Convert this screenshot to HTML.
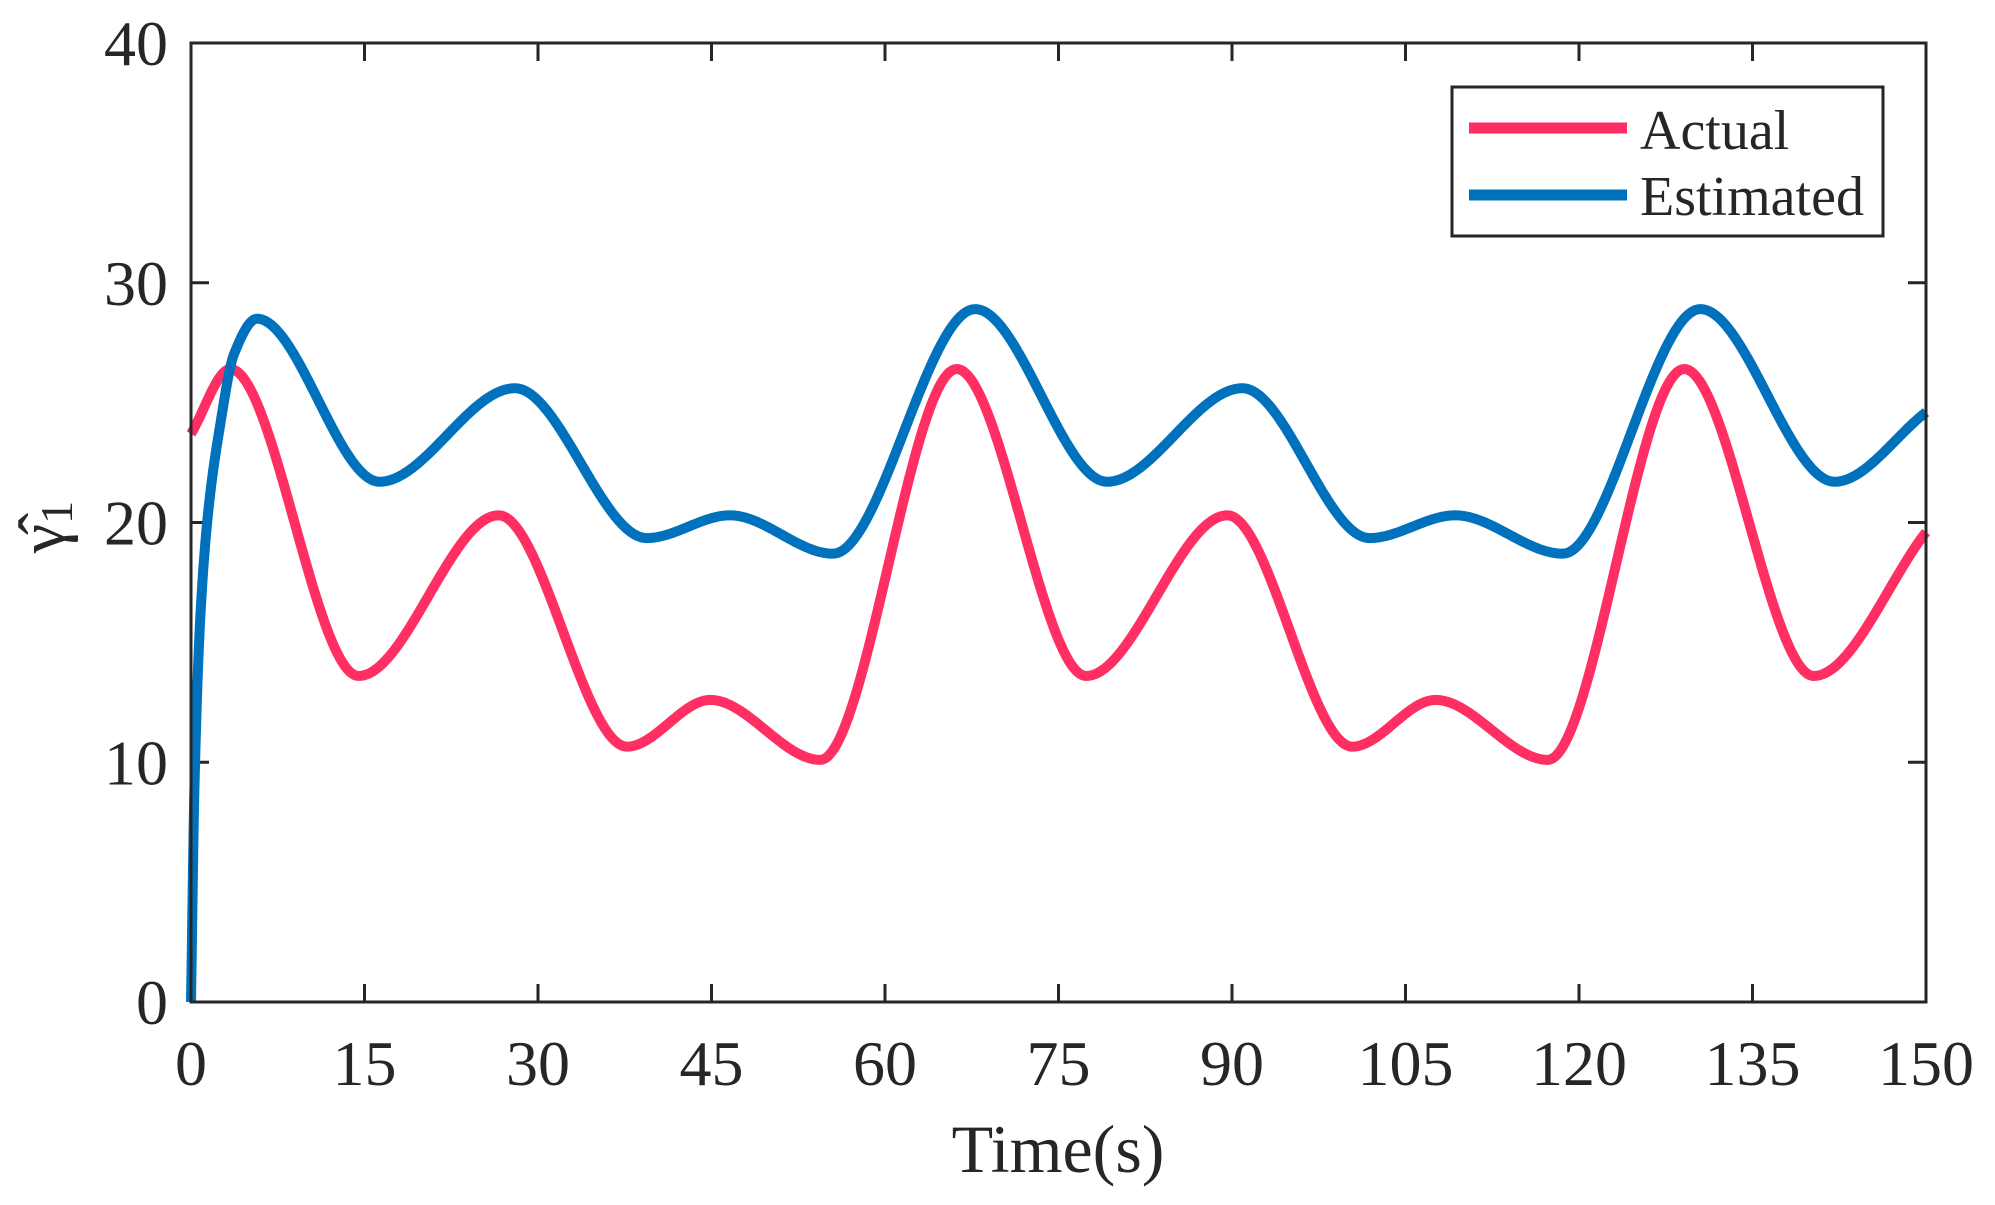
<!DOCTYPE html>
<html><head><meta charset="utf-8"><style>
html,body{margin:0;padding:0;background:#fff;}
svg{display:block;}
text{font-family:"Liberation Serif",serif;fill:#262626;}
</style></head><body>
<svg id="chart" width="1995" height="1205" viewBox="0 0 1995 1205" xmlns="http://www.w3.org/2000/svg">
<rect x="0" y="0" width="1995" height="1205" fill="#fff"/>
<g id="ticks"></g>
<g id="series"></g>
<rect x="191" y="43" width="1735" height="959" fill="none" stroke="#262626" stroke-width="3"/>
<text x="1058" y="1172" font-size="68" text-anchor="middle">Time(s)</text>
<g transform="translate(64,527) rotate(-90)">
<text x="0" y="0" font-size="66" text-anchor="middle">γ̂<tspan font-size="46" dy="8">1</tspan></text>
</g>
<g>
<rect x="1452" y="87" width="431" height="149" fill="#fff" stroke="#262626" stroke-width="3"/>
<line x1="1469" y1="128" x2="1627" y2="128" stroke="#FF2E63" stroke-width="11"/>
<text x="1640" y="149" font-size="56" fill="#000">Actual</text>
<line x1="1469" y1="195" x2="1627" y2="195" stroke="#0072BD" stroke-width="11"/>
<text x="1640" y="215" font-size="56" fill="#000">Estimated</text>
</g>
</svg>
<script>
const xTicks=[0,15,30,45,60,75,90,105,120,135,150];
const yTicks=[0,10,20,30,40];
const actualT=[0,3.4,14.5,26.6,37.7,44.9,54.4,66.2,77.4,89.6,100.4,107.6,117.3,129.1,140.3,150];
const actualV=[23.7,26.4,13.6,20.3,10.65,12.6,10.1,26.4,13.6,20.3,10.65,12.6,10.1,26.4,13.6,19.6];
const estT=[0,0.3,0.8,1.5,2.5,3.7,5.7,16.3,28,39.4,46.6,55.5,67.8,79.2,90.9,101.9,109.3,118.6,130.5,142.1,150];
const estV=[0,9,16,20.5,24,27,28.5,21.7,25.6,19.35,20.3,18.7,28.9,21.7,25.6,19.35,20.3,18.7,28.9,21.7,24.6];
const NS='http://www.w3.org/2000/svg';
const X=t=>191+t*(1735/150);
const Y=v=>1002-v*(959/40);
const tg=document.getElementById('ticks');
xTicks.forEach(t=>{
  const x=X(t);
  [[1002,984],[43,61]].forEach(([a,b])=>{const l=document.createElementNS(NS,'line');
  l.setAttribute('x1',x);l.setAttribute('x2',x);l.setAttribute('y1',a);l.setAttribute('y2',b);
  l.setAttribute('stroke','#262626');l.setAttribute('stroke-width','3');
  
  
  tg.appendChild(l);});
  const tx=document.createElementNS(NS,'text');
  tx.setAttribute('x',x);tx.setAttribute('y',1085);tx.setAttribute('font-size','64');tx.setAttribute('text-anchor','middle');
  tx.textContent=t;
  
  
  tg.appendChild(tx);
});
yTicks.forEach(v=>{
  const y=Y(v);
  [[191,209],[1926,1908]].forEach(([a,b])=>{const l=document.createElementNS(NS,'line');
  l.setAttribute('x1',a);l.setAttribute('x2',b);l.setAttribute('y1',y);l.setAttribute('y2',y);
  l.setAttribute('stroke','#262626');l.setAttribute('stroke-width','3');
  
  
  tg.appendChild(l);});
  const tx=document.createElementNS(NS,'text');
  tx.setAttribute('x',168);tx.setAttribute('y',y+22);tx.setAttribute('font-size','64');tx.setAttribute('text-anchor','end');
  tx.textContent=v;
  
  
  tg.appendChild(tx);
});
function pathFrom(ts,vs){
  const n=ts.length,d=[],m=new Array(n);
  for(let i=0;i<n-1;i++)d.push((vs[i+1]-vs[i])/(ts[i+1]-ts[i]));
  m[0]=d[0];m[n-1]=d[n-2];
  for(let i=1;i<n-1;i++){
    if(d[i-1]*d[i]<=0)m[i]=0;
    else{const h0=ts[i]-ts[i-1],h1=ts[i+1]-ts[i];const w1=2*h1+h0,w2=h1+2*h0;m[i]=(w1+w2)/(w1/d[i-1]+w2/d[i]);}
  }
  let s='M'+X(ts[0])+','+Y(vs[0]);
  for(let i=0;i<n-1;i++){
    const h=ts[i+1]-ts[i];
    const steps=Math.max(8,Math.ceil(h*8));
    for(let k=1;k<=steps;k++){
      const u=k/steps,u2=u*u,u3=u2*u;
      const v=(2*u3-3*u2+1)*vs[i]+(u3-2*u2+u)*h*m[i]+(-2*u3+3*u2)*vs[i+1]+(u3-u2)*h*m[i+1];
      s+=' L'+X(ts[i]+u*h).toFixed(2)+','+Y(v).toFixed(2);
    }
  }
  return s;
}
const sg=document.getElementById('series');
const pa=document.createElementNS(NS,'path');
pa.setAttribute('d',pathFrom(actualT,actualV));
pa.setAttribute('fill','none');pa.setAttribute('stroke','#FF2E63');pa.setAttribute('stroke-width','10');pa.setAttribute('stroke-linejoin','round');


sg.appendChild(pa);
const pe=document.createElementNS(NS,'path');
pe.setAttribute('d',pathFrom(estT,estV));
pe.setAttribute('fill','none');pe.setAttribute('stroke','#0072BD');pe.setAttribute('stroke-width','10');pe.setAttribute('stroke-linejoin','round');


sg.appendChild(pe);
</script>
</body></html>
